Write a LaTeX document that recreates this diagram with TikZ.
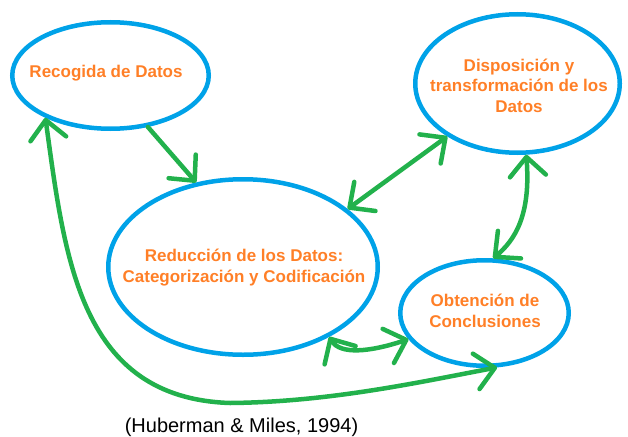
\documentclass[tikz,border=0pt]{standalone}
\usepackage{fontspec}
\setmainfont{Liberation Sans}
\usetikzlibrary{arrows.meta,shapes.geometric}
\definecolor{eblue}{RGB}{0,162,232}
\definecolor{agreen}{RGB}{34,177,76}
\definecolor{torange}{RGB}{255,127,39}
\begin{document}
\begin{tikzpicture}[x=1pt,y=-1pt,
  bubble/.style={ellipse, draw=eblue, line width=4.5pt, inner sep=0pt},
  intext/.style={text=torange, font=\bfseries\fontsize{17}{20.3}\selectfont, align=center, anchor=base, inner sep=0pt},
  link/.style={draw=agreen, line width=4.5pt, line cap=round, line join=round},
  >={Straight Barb[length=19pt,width=36pt,round]}]
\useasboundingbox (0,0) rectangle (628,436);
\node[bubble, minimum width=196.5pt, minimum height=106.5pt] (e1) at (110.5,75.5) {};
\node[bubble, minimum width=204.5pt, minimum height=138.5pt] (e2) at (517.5,83.5) {};
\node[bubble, minimum width=269.5pt, minimum height=175.5pt] (e3) at (243,267) {};
\node[bubble, minimum width=168.5pt, minimum height=105.5pt] (e4) at (484.5,313) {};
\node[intext] (t1) at (106,77) {Recogida de Datos};
\node[intext] (t2) at (519,112) {Disposición y\\transformación de los\\Datos};
\node[intext] (t3) at (244,282) {Reducción de los Datos:\\Categorización y Codificación};
\node[intext] (t4) at (485,327) {Obtención de\\Conclusiones};
\node[anchor=base, inner sep=0pt, font=\fontsize{20}{24}\selectfont] (cite) at (241.5,432) {(Huberman \& Miles, 1994)};
\draw[link,->] (e1.-54) -- (e3.119);
\draw[link,<->] (e3.29) -- (e2.-143.5);
\draw[link,<->] (e2.-83) .. controls (531,215) and (515,240) .. (e4.81);
\draw[link,<->] (e3.-39) .. controls (340,355) and (370,352) .. (e4.-161.4);
\draw[link,<->] (e1.-147) .. controls (65,260) and (80,398) .. (230,403) .. controls (330,402) and (420,382) .. (e4.-77);
\end{tikzpicture}
\end{document}
